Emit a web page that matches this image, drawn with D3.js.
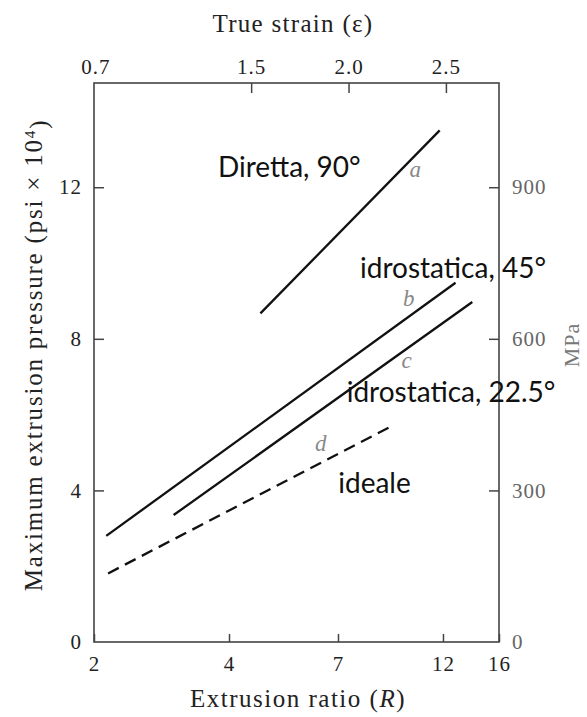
<!DOCTYPE html>
<html>
<head>
<meta charset="utf-8">
<script src="https://cdn.jsdelivr.net/npm/d3@7"></script>
<style>
  body { margin: 0; background: #fff; }
  svg { display: block; }
</style>
</head>
<body>
<script>
// Axis tick values
const ratioTicks = [2, 4, 7, 12, 16];          // extrusion ratio R (bottom, log)
const strainTicks = [0.7, 1.5, 2.0, 2.5];      // true strain ε = ln R (top)
const psiTicks = [0, 4, 8, 12];                // psi × 10^4 (left)
const mpaTicks = [0, 300, 600, 900];           // MPa (right)

// Curves: extrusion ratio at each end, and maximum pressure (psi × 10^4)
const curveKeys = ["a", "b", "c", "d"];
const curveR   = [[4.7, 11.8], [2.13, 12.8], [3.01, 13.95], [2.15, 9.3]];
const curvePsi = [[8.67, 13.5], [2.8, 9.48], [3.35, 8.97], [1.81, 5.72]];
const curveDashed = [false, false, false, true];
const curveNames = ["Diretta, 90°", "idrostatica, 45°", "idrostatica, 22.5°", "ideale"];

// Where the names and the letters sit, in (R, psi) units
const nameAt   = [[3.78, 12.26], [7.84, 9.6], [7.32, 6.34], [7.01, 3.92]];
const letterAt = [[10.1, 12.26], [9.77, 8.86], [9.7, 7.23], [6.22, 5.04]];

const W = 587, H = 717;
const plotL = 94, plotR = 499, plotT = 83, plotB = 642;

const svg = d3.select("body").append("svg")
  .attr("width", W).attr("height", H)
  .style("font-family", "'Liberation Serif', 'Times New Roman', serif");

const x = d3.scaleLog().domain([2, 16]).range([plotL, plotR]);
const xStrain = d3.scaleLinear().domain([Math.log(2), Math.log(16)]).range([plotL, plotR]);
const y = d3.scaleLinear().domain([0, 14.75]).range([plotB, plotT]);
// MPa scale as printed: 900 MPa sits level with 12 × 10^4 psi
const yMpa = d3.scaleLinear().domain([0, 900]).range([y(0), y(12)]);

function styleAxis(g, color) {
  g.select(".domain").remove();
  g.selectAll(".tick line").attr("stroke", "#444").attr("stroke-width", 1.5);
  g.selectAll(".tick text")
    .attr("fill", color)
    .style("font-size", "21px")
    .style("letter-spacing", "1px")
    .style("font-family", "'Liberation Serif', serif");
}

// bottom axis
svg.append("g").attr("transform", `translate(0,${plotB})`)
  .call(d3.axisBottom(x).tickValues(ratioTicks).tickFormat(d3.format("d"))
    .tickSize(-8).tickPadding(14))
  .call(g => styleAxis(g, "#222"));

// top axis
svg.append("g").attr("transform", `translate(0,${plotT})`)
  .call(d3.axisTop(xStrain).tickValues(strainTicks).tickFormat(d3.format(".1f"))
    .tickSize(-10).tickPadding(9))
  .call(g => styleAxis(g, "#222"))
  .call(g => g.selectAll(".tick").filter(d => d === 0.7).select("line").remove());

// left axis
svg.append("g").attr("transform", `translate(${plotL},0)`)
  .call(d3.axisLeft(y).tickValues(psiTicks).tickSize(-10).tickPadding(12))
  .call(g => styleAxis(g, "#222"))
  .call(g => g.selectAll(".tick").filter(d => d === 0).select("line").remove());

// right axis
svg.append("g").attr("transform", `translate(${plotR},0)`)
  .call(d3.axisRight(yMpa).tickValues(mpaTicks).tickSize(-10).tickPadding(13))
  .call(g => styleAxis(g, "#666"))
  .call(g => g.selectAll(".tick").filter(d => d === 0).select("line").remove());

// frame
svg.append("rect")
  .attr("x", plotL).attr("y", plotT)
  .attr("width", plotR - plotL).attr("height", plotB - plotT)
  .attr("fill", "none").attr("stroke", "#444").attr("stroke-width", 1.6);

// curves
const line = d3.line().x(d => x(d[0])).y(d => y(d[1]));
curveKeys.forEach((k, i) => {
  const pts = curveR[i].map((r, j) => [r, curvePsi[i][j]]);
  svg.append("path")
    .datum(pts)
    .attr("d", line)
    .attr("fill", "none")
    .attr("stroke", "#111")
    .attr("stroke-width", 2.3)
    .attr("stroke-dasharray", curveDashed[i] ? "12,7" : null);
});

// curve names
curveNames.forEach((t, i) => {
  svg.append("text")
    .attr("x", x(nameAt[i][0])).attr("y", y(nameAt[i][1]))
    .attr("fill", "#111")
    .style("font-family", "Lato, 'Open Sans', sans-serif")
    .style("font-size", "28px")
    .text(t);
});

// curve letters
curveKeys.forEach((k, i) => {
  svg.append("text")
    .attr("x", x(letterAt[i][0])).attr("y", y(letterAt[i][1]))
    .attr("fill", "#888")
    .style("font-style", "italic")
    .style("font-size", "23px")
    .text(k);
});

// axis titles
svg.append("text")
  .attr("x", 293).attr("y", 32)
  .attr("text-anchor", "middle")
  .attr("fill", "#222")
  .style("font-size", "25px").style("letter-spacing", "1.3px")
  .text("True strain (ε)");

const xt = svg.append("text")
  .attr("x", 298).attr("y", 707)
  .attr("text-anchor", "middle")
  .attr("fill", "#222")
  .style("font-size", "25px").style("letter-spacing", "1.5px");
xt.append("tspan").text("Extrusion ratio (");
xt.append("tspan").style("font-style", "italic").text("R");
xt.append("tspan").text(")");

const yt = svg.append("text")
  .attr("transform", "translate(42,355) rotate(-90)")
  .attr("text-anchor", "middle")
  .attr("fill", "#222")
  .style("font-size", "25px").style("letter-spacing", "1.8px");
yt.append("tspan").text("Maximum extrusion pressure (psi × 10");
yt.append("tspan").attr("dy", "-0.45em").style("font-size", "15px").text("4");
yt.append("tspan").attr("dy", "0.45em").text(")");

svg.append("text")
  .attr("transform", "translate(579,345) rotate(-90)")
  .attr("text-anchor", "middle")
  .attr("fill", "#777")
  .style("font-size", "22px").style("letter-spacing", "1px")
  .text("MPa");
</script>
</body>
</html>
